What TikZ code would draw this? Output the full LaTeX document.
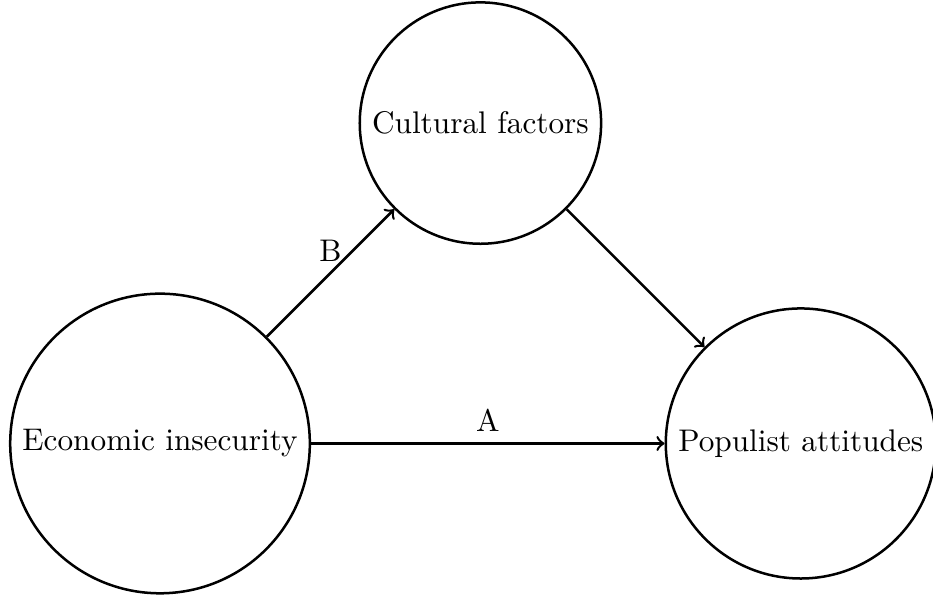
\documentclass[tikz,border=0pt]{standalone}
\usepackage{tikz}
\usetikzlibrary{positioning}
\tikzset{
  factor/.style={draw, circle, thick, align=center},
  link/.style={->, thick},
}

\begin{document}
\begin{tikzpicture}
      \useasboundingbox (-1.798,-1.747) rectangle (8.685,4.983);
      \node[factor] (econ) at (0,0) {Economic insecurity};
      \node[factor] (cult) at (3.6,3.6) {Cultural factors};
      \node[factor] (popu) at (7.2,0) {Populist attitudes};

      \draw[link] (econ) -- (cult) node[midway, above] {B};
      \draw[link] (econ) -- (popu) node[midway, above] {A};
      \draw[link] (cult) -- (popu);
    \end{tikzpicture}
\end{document}
